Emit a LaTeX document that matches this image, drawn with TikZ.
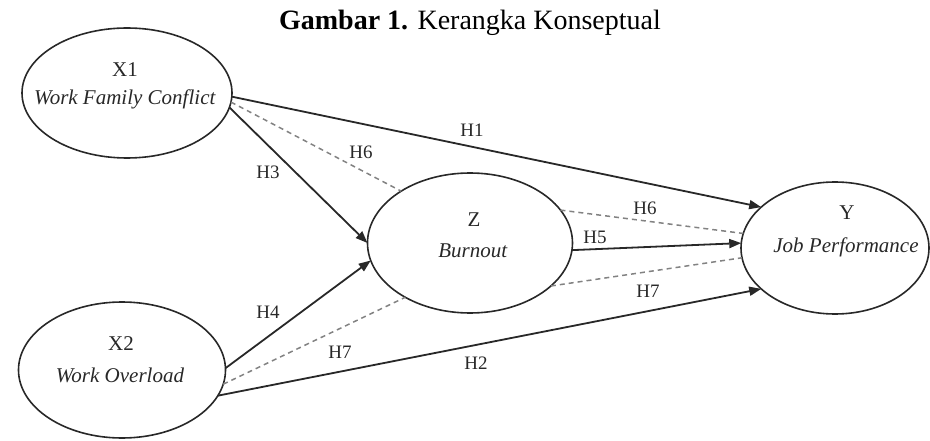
\documentclass[tikz,border=0pt]{standalone}
\usepackage{fontspec}
\setmainfont{Liberation Serif}
\usetikzlibrary{shapes.geometric,arrows.meta}
\definecolor{ink}{RGB}{40,40,40}
\definecolor{dashc}{RGB}{130,130,130}
\tikzset{
  latent/.style={ellipse, draw=ink, line width=1.6pt, inner sep=0pt, outer sep=0pt},
  vartxt/.style={anchor=base, text=ink, font=\fontsize{21}{24}\selectfont, inner sep=0pt},
  hlab/.style={text=ink, font=\fontsize{19}{22}\selectfont, inner sep=0pt},
  direct/.style={draw=ink, line width=1.8pt, -{Triangle[length=12pt,width=9pt]}},
  indirect/.style={draw=dashc, line width=1.5pt, dash pattern=on 5pt off 4pt}
}
\begin{document}
\begin{tikzpicture}[x=1pt,y=-1pt]
\useasboundingbox (0,0) rectangle (930,441);

\node[anchor=base, text=black, font=\fontsize{28}{32}\selectfont, inner sep=0pt] (title) at (470,30) {\textbf{Gambar 1.} Kerangka Konseptual};

\node[latent, minimum width=210pt, minimum height=130pt] (x1) at (127,93) {};
\node[latent, minimum width=207pt, minimum height=136pt] (x2) at (122,370) {};
\node[latent, minimum width=205pt, minimum height=140pt] (z) at (470,243) {};
\node[latent, minimum width=188pt, minimum height=132pt] (y) at (835,248) {};

\node[vartxt] (x1a) at (125,77) {X1};
\node[vartxt] (x1b) at (125,105) {\textit{Work Family Conflict}};
\node[vartxt] (x2a) at (121,350) {X2};
\node[vartxt] (x2b) at (120,382) {\textit{Work Overload}};
\node[vartxt] (za) at (474,227) {Z};
\node[vartxt] (zb) at (473,258) {\textit{Burnout}};
\node[vartxt] (ya) at (847,220) {Y};
\node[vartxt] (yb) at (846,253) {\textit{Job Performance}};

% direct effects
\draw[direct] (x1.-2.2) -- (y.151.5);
\draw[direct] (x1.-8.4) -- (z.180);
\draw[direct] (x2.1.1) -- (z.-170.8);
\draw[direct] (z.-4.4) -- (y.177);
\draw[direct] (x2.-15.7) -- (y.209.2);

% indirect effects
\draw[indirect] (x1.-5.4) -- (z.143);
\draw[indirect] (z.20) -- (y.171);
\draw[indirect] (x2.-8.1) -- (z.220.9);
\draw[indirect] (z.-28.8) -- (y.186);

% labels
\node[hlab] (h1) at (472,130) {H1};
\node[hlab] (h6a) at (361,152) {H6};
\node[hlab] (h3) at (268,172) {H3};
\node[hlab] (h4) at (268,312) {H4};
\node[hlab] (h7a) at (340,352) {H7};
\node[hlab] (h2) at (476,363) {H2};
\node[hlab] (h6b) at (645,208) {H6};
\node[hlab] (h5) at (595,237) {H5};
\node[hlab] (h7b) at (648,291) {H7};
\end{tikzpicture}
\end{document}
